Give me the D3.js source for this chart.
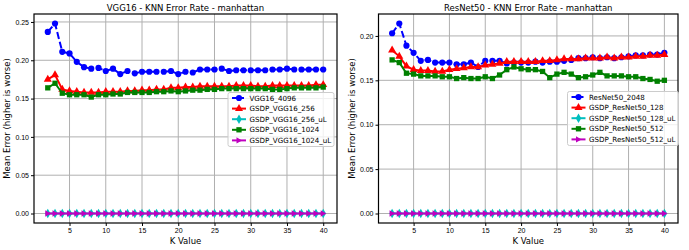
<!DOCTYPE html>
<html>
<head>
<meta charset="utf-8">
<script src="https://cdn.jsdelivr.net/npm/d3@7"></script>
<style>
  body { margin: 0; background: #fff; }
  svg { font-family: "DejaVu Sans", sans-serif; }
</style>
</head>
<body>
<svg id="chart" width="689" height="250"></svg>
<script>
const kValues = d3.range(2, 41);
const xTicks = [5, 10, 15, 20, 25, 30, 35, 40];

// VGG16 panel
const vgg4096 = [0.237, 0.248, 0.211, 0.209, 0.198, 0.191, 0.189, 0.190, 0.186, 0.189,
  0.182, 0.186, 0.183, 0.185, 0.185, 0.185, 0.185, 0.186, 0.182, 0.185,
  0.184, 0.188, 0.188, 0.188, 0.189, 0.186, 0.187, 0.187, 0.187, 0.187,
  0.187, 0.188, 0.188, 0.189, 0.188, 0.188, 0.188, 0.188, 0.188];
const vgg256 = [0.175, 0.181, 0.162, 0.160, 0.159, 0.158, 0.158, 0.158, 0.159, 0.159,
  0.159, 0.160, 0.160, 0.161, 0.161, 0.162, 0.162, 0.164, 0.164, 0.165,
  0.165, 0.166, 0.166, 0.166, 0.166, 0.166, 0.167, 0.167, 0.167, 0.166,
  0.166, 0.167, 0.167, 0.167, 0.167, 0.167, 0.167, 0.168, 0.168];
const vgg256uL = kValues.map(() => 0);
const vgg1024 = [0.164, 0.170, 0.157, 0.155, 0.155, 0.155, 0.152, 0.155, 0.155, 0.156,
  0.156, 0.158, 0.158, 0.158, 0.158, 0.159, 0.159, 0.160, 0.159, 0.160,
  0.161, 0.161, 0.162, 0.162, 0.163, 0.163, 0.163, 0.163, 0.163, 0.163,
  0.163, 0.162, 0.162, 0.163, 0.164, 0.164, 0.164, 0.164, 0.165];
const vgg1024uL = kValues.map(() => 0);
const vggYTicks = [0, 0.05, 0.10, 0.15, 0.20, 0.25];

// ResNet50 panel
const res2048 = [0.203, 0.214, 0.189, 0.181, 0.172, 0.173, 0.170, 0.170, 0.170, 0.168,
  0.168, 0.170, 0.165, 0.172, 0.172, 0.172, 0.169, 0.170, 0.170, 0.170,
  0.171, 0.170, 0.171, 0.171, 0.172, 0.173, 0.175, 0.175, 0.176, 0.175,
  0.176, 0.175, 0.176, 0.177, 0.178, 0.178, 0.179, 0.179, 0.181];
const res128 = [0.184, 0.177, 0.166, 0.162, 0.161, 0.161, 0.160, 0.160, 0.162, 0.163,
  0.164, 0.165, 0.165, 0.167, 0.168, 0.169, 0.171, 0.171, 0.171, 0.171,
  0.171, 0.172, 0.172, 0.173, 0.174, 0.174, 0.174, 0.175, 0.175, 0.175,
  0.176, 0.175, 0.176, 0.176, 0.177, 0.177, 0.178, 0.178, 0.179];
const res128uL = kValues.map(() => 0);
const res512 = [0.173, 0.170, 0.158, 0.157, 0.155, 0.155, 0.155, 0.154, 0.154, 0.152,
  0.153, 0.152, 0.152, 0.154, 0.152, 0.156, 0.162, 0.165, 0.163, 0.162,
  0.162, 0.160, 0.153, 0.157, 0.159, 0.157, 0.153, 0.154, 0.156, 0.159,
  0.155, 0.155, 0.155, 0.154, 0.154, 0.152, 0.151, 0.149, 0.150];
const res512uL = kValues.map(() => 0);
const resYTicks = [0, 0.05, 0.10, 0.15, 0.20];

const svg = d3.select('#chart');

// right-pointing triangle for the '>' marker
const triRight = {
  draw(ctx, size) {
    const r = Math.sqrt(size) * 0.62;
    ctx.moveTo(r, 0);
    ctx.lineTo(-r * 0.8, -r);
    ctx.lineTo(-r * 0.8, r);
    ctx.closePath();
  }
};

const styles = {
  base:   {color: '#0000ff', symbol: d3.symbolCircle, size: 30, dash: '7,3'},
  small:  {color: '#ff0000', symbol: d3.symbolTriangle, size: 28, dash: null},
  smallU: {color: '#00bfbf', symbol: d3.symbolDiamond, size: 26, dash: null},
  big:    {color: '#008000', symbol: d3.symbolSquare, size: 28, dash: null},
  bigU:   {color: '#bf00bf', symbol: triRight, size: 26, dash: null},
};

function drawPanel(p) {
  const g = svg.append('g');
  const x = d3.scaleLinear().domain([0.1, 41.9]).range([p.left, p.right]);
  const yMax = d3.max(p.series, s => d3.max(s.values));
  const y = d3.scaleLinear().domain([-yMax * 0.05, yMax * 1.05]).range([223, 14]);

  // grid
  g.append('g').selectAll('line').data(xTicks).join('line')
    .attr('x1', d => x(d)).attr('x2', d => x(d))
    .attr('y1', 14).attr('y2', 223)
    .attr('stroke', '#b0b0b0').attr('stroke-width', 1);
  g.append('g').selectAll('line').data(p.yTicks).join('line')
    .attr('x1', p.left).attr('x2', p.right)
    .attr('y1', d => y(d)).attr('y2', d => y(d))
    .attr('stroke', '#b0b0b0').attr('stroke-width', 1);

  // axes
  const xAxis = d3.axisBottom(x).tickValues(xTicks).tickSize(3).tickPadding(2);
  const yAxis = d3.axisLeft(y).tickValues(p.yTicks).tickSize(3).tickPadding(2)
    .tickFormat(d3.format('.2f'));
  g.append('g').attr('transform', 'translate(0,223)').call(xAxis)
    .call(a => a.select('.domain').remove())
    .selectAll('text').attr('font-size', 7).attr('fill', '#000');
  g.append('g').attr('transform', `translate(${p.left},0)`).call(yAxis)
    .call(a => a.select('.domain').remove())
    .selectAll('text').attr('font-size', 7).attr('fill', '#000');

  const line = d3.line().x((d, i) => x(kValues[i])).y(d => y(d));

  p.series.forEach(s => {
    const st = styles[s.style];
    const sg = g.append('g');
    sg.append('path').datum(s.values)
      .attr('d', line)
      .attr('fill', 'none')
      .attr('stroke', st.color)
      .attr('stroke-width', 2)
      .attr('stroke-dasharray', st.dash);
    sg.selectAll('path.m').data(s.values).join('path')
      .attr('class', 'm')
      .attr('transform', (d, i) => `translate(${x(kValues[i])},${y(d)})`)
      .attr('d', d3.symbol(st.symbol, st.size))
      .attr('fill', st.color);
  });

  // spines
  g.append('rect')
    .attr('x', p.left).attr('y', 14)
    .attr('width', p.right - p.left).attr('height', 209)
    .attr('fill', 'none').attr('stroke', '#000').attr('stroke-width', 1.2);

  // title and labels
  g.append('text')
    .attr('x', (p.left + p.right) / 2).attr('y', 10.5)
    .attr('text-anchor', 'middle').attr('font-size', 8.5)
    .text(p.title);
  g.append('text')
    .attr('x', (p.left + p.right) / 2).attr('y', 243.5)
    .attr('text-anchor', 'middle').attr('font-size', 8.5)
    .text('K Value');
  g.append('text')
    .attr('transform', `translate(${p.left - 24},118.5) rotate(-90)`)
    .attr('text-anchor', 'middle').attr('font-size', 8.5)
    .text('Mean Error (higher is worse)');

  // legend
  const lg = g.append('g');
  lg.append('rect')
    .attr('x', p.legX).attr('y', p.legY)
    .attr('width', p.legW).attr('height', 54)
    .attr('rx', 2)
    .attr('fill', '#fff').attr('fill-opacity', 0.8)
    .attr('stroke', '#cccccc').attr('stroke-width', 1);
  p.series.forEach((s, i) => {
    const st = styles[s.style];
    const cy = p.legY + 5.5 + i * 10.6;
    const x0 = p.legX + 4;
    lg.append('line')
      .attr('x1', x0).attr('x2', x0 + 14)
      .attr('y1', cy).attr('y2', cy)
      .attr('stroke', st.color).attr('stroke-width', 2)
      .attr('stroke-dasharray', st.dash ? '5,2' : null);
    lg.append('path')
      .attr('transform', `translate(${x0 + 7},${cy})`)
      .attr('d', d3.symbol(st.symbol, st.size))
      .attr('fill', st.color);
    lg.append('text')
      .attr('x', x0 + 17.5).attr('y', cy + 2.5)
      .attr('font-size', 7.1)
      .text(s.name);
  });
}

drawPanel({
  left: 34, right: 337,
  title: 'VGG16 - KNN Error Rate - manhattan',
  yTicks: vggYTicks,
  legX: 228, legY: 92.5, legW: 106,
  series: [
    {name: 'VGG16_4096', values: vgg4096, style: 'base'},
    {name: 'GSDP_VGG16_256', values: vgg256, style: 'small'},
    {name: 'GSDP_VGG16_256_uL', values: vgg256uL, style: 'smallU'},
    {name: 'GSDP_VGG16_1024', values: vgg1024, style: 'big'},
    {name: 'GSDP_VGG16_1024_uL', values: vgg1024uL, style: 'bigU'},
  ],
});

drawPanel({
  left: 378.5, right: 678,
  title: 'ResNet50 - KNN Error Rate - manhattan',
  yTicks: resYTicks,
  legX: 567.5, legY: 91.5, legW: 111,
  series: [
    {name: 'ResNet50_2048', values: res2048, style: 'base'},
    {name: 'GSDP_ResNet50_128', values: res128, style: 'small'},
    {name: 'GSDP_ResNet50_128_uL', values: res128uL, style: 'smallU'},
    {name: 'GSDP_ResNet50_512', values: res512, style: 'big'},
    {name: 'GSDP_ResNet50_512_uL', values: res512uL, style: 'bigU'},
  ],
});
</script>
</body>
</html>
